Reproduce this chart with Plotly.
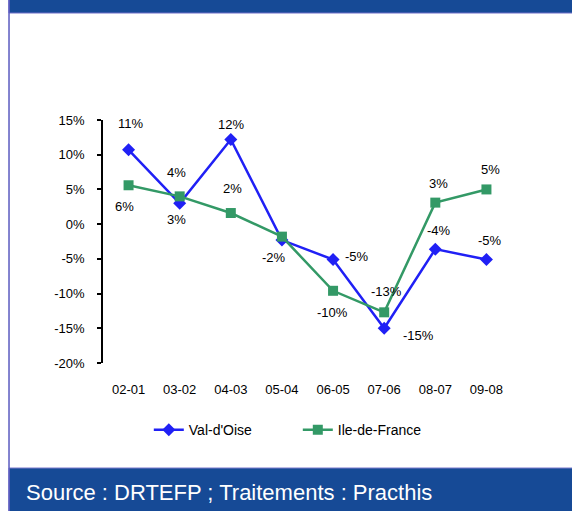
import plotly.graph_objects as go

categories = ["02-01", "03-02", "04-03", "05-04", "06-05", "07-06", "08-07", "09-08"]
val_oise = [10.7, 3.0, 12.2, -2.3, -5.1, -15.0, -3.6, -5.1]
idf = [5.6, 4.0, 1.6, -1.8, -9.6, -12.7, 3.1, 5.0]
val_oise_labels = ["11%", "3%", "12%", "", "-5%", "-15%", "-4%", "-5%"]
idf_labels = ["6%", "4%", "2%", "-2%", "-10%", "-13%", "3%", "5%"]
y_ticks = [15, 10, 5, 0, -5, -10, -15, -20]
y_tick_labels = ["15%", "10%", "5%", "0%", "-5%", "-10%", "-15%", "-20%"]

# label offsets in pixels (dx, dy screen-down)
val_oise_off = [(2, -26), (-3, 16), (0, -15), (0, 0), (24, -3), (34, 7), (4, -19), (4, -19)]
idf_off = [(-4, 21), (-3, -24), (2, -25), (-8, 21), (-1, 22), (2, -21), (3, -19), (4, -20)]

BLUE = "#2020F5"
GREEN = "#339966"
BAND = "#164A96"
FONT = "Liberation Sans, Arial, sans-serif"

ymin, ymax = -20, 15

fig = go.Figure()
fig.add_trace(go.Scatter(
    x=categories, y=val_oise, name="Val-d'Oise", mode="lines+markers",
    line=dict(color=BLUE, width=2.5),
    marker=dict(symbol="diamond", size=10, color=BLUE),
))
fig.add_trace(go.Scatter(
    x=categories, y=idf, name="Ile-de-France", mode="lines+markers",
    line=dict(color=GREEN, width=2.5),
    marker=dict(symbol="square", size=10, color=GREEN),
))

annotations = []
for series, labels, offs in ((val_oise, val_oise_labels, val_oise_off), (idf, idf_labels, idf_off)):
    for c, v, t, (dx, dy) in zip(categories, series, labels, offs):
        if not t:
            continue
        annotations.append(dict(
            x=c, y=v, xref="x", yref="y", text=t, showarrow=False,
            xshift=dx, yshift=-dy, font=dict(family=FONT, size=13, color="black"),
        ))

annotations.append(dict(
    x=-0.1932, y=-0.531, xref="paper", yref="paper", xanchor="left", yanchor="middle",
    text="Source : DRTEFP ; Traitements : Practhis", showarrow=False,
    font=dict(family=FONT, size=22, color="white"),
))

shapes = [
    dict(type="rect", xref="paper", yref="paper", x0=-0.2298, x1=1.3, y0=1.4403, y1=1.7,
         fillcolor=BAND, line=dict(color="#6E6EC8", width=1), layer="below"),
    dict(type="rect", xref="paper", yref="paper", x0=-0.2298, x1=1.3, y0=-0.75, y1=-0.432,
         fillcolor=BAND, line=dict(color="#8080D0", width=1), layer="below"),
    dict(type="line", xref="paper", yref="paper", x0=-0.2298, x1=-0.2298, y0=-0.75, y1=1.7,
         line=dict(color="#5A5ABF", width=1.5)),
]

fig.update_layout(
    width=572, height=511,
    margin=dict(l=103, r=60, t=120, b=148),
    paper_bgcolor="white", plot_bgcolor="white",
    font=dict(family=FONT, size=13, color="black"),
    showlegend=True,
    legend=dict(orientation="h", x=0.112, xanchor="left", y=-0.276, yanchor="middle",
                font=dict(family=FONT, size=14, color="black"),
                entrywidth=104, entrywidthmode="pixels", bgcolor="rgba(0,0,0,0)"),
    xaxis=dict(type="category", range=[-0.5, 7.5], showline=False, showgrid=False,
               zeroline=False, ticks="", ticklabelstandoff=17,
               tickfont=dict(family=FONT, size=13, color="black")),
    xaxis2=dict(overlaying="x", anchor="free", position=(0 - ymin) / (ymax - ymin),
                type="linear", range=[-0.5, 7.5],
                tickvals=[i + 0.5 for i in range(len(categories) - 1)],
                ticks="outside", ticklen=5, tickcolor="black", tickwidth=1.5,
                showticklabels=False, showline=True, linecolor="black", linewidth=1.5,
                showgrid=False, zeroline=False),
    yaxis=dict(range=[ymin, ymax], tickvals=y_ticks, ticktext=y_tick_labels,
               showline=True, linecolor="black", linewidth=1.5, ticks="outside",
               ticklen=4, tickcolor="black", tickwidth=1.5, showgrid=False,
               zeroline=False, ticklabelstandoff=10,
               tickfont=dict(family=FONT, size=13, color="black")),
    annotations=annotations,
    shapes=shapes,
)

fig.write_html("out.html", config={"displayModeBar": False},
               post_script="document.body.style.margin='0px';document.body.style.overflow='hidden';")
